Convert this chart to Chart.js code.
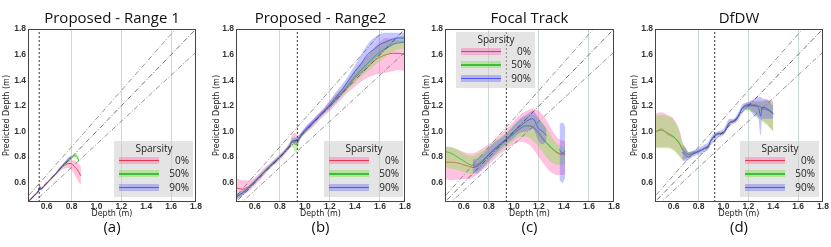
<!DOCTYPE html>
<html>
<head>
<meta charset="utf-8">
<script src="https://cdn.jsdelivr.net/npm/chart.js@4.4.0/dist/chart.umd.min.js"></script>
<style>
  body { margin: 0; background: #fff; }
  #wrap { position: relative; width: 831px; height: 247px; overflow: hidden; }
  #wrap canvas { position: absolute; top: 0; }
  .legend { position: absolute; width: 79px; height: 56px; background: rgba(205,205,205,0.55); font-family: 'Open Sans', sans-serif; color: #222; }
  .legend .ttl { position: absolute; left: 0; width: 80px; top: 0; text-align: center; font-size: 10px; line-height: 14px; }
  .legend .row { position: absolute; left: 5px; width: 70px; height: 13px; }
  .legend .patch { position: absolute; left: 0; top: 3px; width: 40px; height: 7px; }
  .legend .patch i { position: absolute; left: 0; right: 0; top: 3px; height: 1.5px; }
  .legend .lbl { position: absolute; right: 0; top: 0; font-size: 10px; line-height: 13px; }
</style>
</head>
<body>
<div id="wrap"></div>
<script>
// Axis setup
const AXIS_MIN = 0.45;
const AXIS_MAX = 1.8;
const TICKS = [0.6, 0.8, 1.0, 1.2, 1.4, 1.6, 1.8];
const GRID_X = [0.8, 1.2, 1.6];
const REF_SLOPES = [0.9, 1.0, 1.1];
const SPARSITY = ['0%', '50%', '90%'];

// (a) Proposed - Range 1
const A_X = [0.45, 0.48, 0.51, 0.53, 0.545, 0.555, 0.57, 0.6, 0.63, 0.66, 0.69, 0.72, 0.75, 0.78, 0.8, 0.82, 0.84, 0.86, 0.875];
const A0_MEAN = [0.45, 0.48, 0.51, 0.53, 0.57, 0.55, 0.565, 0.595, 0.625, 0.655, 0.69, 0.72, 0.74, 0.75, 0.75, 0.73, 0.71, 0.68, 0.655];
const A0_LO = [0.44, 0.47, 0.50, 0.52, 0.555, 0.54, 0.555, 0.585, 0.615, 0.645, 0.675, 0.70, 0.715, 0.715, 0.70, 0.67, 0.635, 0.60, 0.585];
const A0_HI = [0.46, 0.49, 0.52, 0.54, 0.585, 0.565, 0.575, 0.605, 0.635, 0.665, 0.705, 0.74, 0.76, 0.77, 0.775, 0.775, 0.765, 0.745, 0.725];
const A50_MEAN = [0.45, 0.48, 0.51, 0.53, 0.565, 0.55, 0.565, 0.595, 0.625, 0.655, 0.69, 0.72, 0.75, 0.775, 0.79, 0.81, 0.81, 0.77, null];
const A50_LO = [0.445, 0.475, 0.505, 0.525, 0.555, 0.545, 0.56, 0.59, 0.62, 0.65, 0.68, 0.71, 0.74, 0.765, 0.78, 0.795, 0.79, 0.75, null];
const A50_HI = [0.455, 0.485, 0.515, 0.535, 0.575, 0.555, 0.57, 0.6, 0.63, 0.66, 0.70, 0.73, 0.76, 0.785, 0.80, 0.825, 0.83, 0.79, null];
const A90_MEAN = [0.45, 0.48, 0.51, 0.53, 0.565, 0.55, 0.565, 0.595, 0.625, 0.655, 0.69, 0.725, 0.76, 0.79, 0.80, null, null, null, null];
const A90_LO = [0.445, 0.475, 0.505, 0.525, 0.555, 0.545, 0.56, 0.59, 0.62, 0.65, 0.68, 0.715, 0.75, 0.775, 0.785, null, null, null, null];
const A90_HI = [0.455, 0.485, 0.515, 0.535, 0.575, 0.555, 0.57, 0.6, 0.63, 0.66, 0.70, 0.735, 0.77, 0.805, 0.815, null, null, null, null];

// (b) Proposed - Range2
const B_X = [0.45, 0.5, 0.55, 0.6, 0.65, 0.7, 0.75, 0.8, 0.85, 0.88, 0.9, 0.92, 0.94, 0.96, 1.0, 1.05, 1.1, 1.15, 1.2, 1.25, 1.3, 1.35, 1.4, 1.45, 1.5, 1.55, 1.6, 1.65, 1.7, 1.75, 1.8];
const B0_MEAN = [0.56, 0.55, 0.57, 0.61, 0.66, 0.71, 0.755, 0.80, 0.855, 0.89, 0.92, 0.93, 0.925, 0.955, 1.0, 1.05, 1.1, 1.15, 1.2, 1.25, 1.3, 1.36, 1.42, 1.46, 1.5, 1.55, 1.58, 1.6, 1.61, 1.61, 1.6];
const B0_LO = [0.47, 0.50, 0.53, 0.58, 0.63, 0.69, 0.735, 0.78, 0.83, 0.87, 0.89, 0.90, 0.89, 0.93, 0.98, 1.02, 1.07, 1.12, 1.16, 1.21, 1.26, 1.31, 1.35, 1.39, 1.42, 1.44, 1.45, 1.46, 1.47, 1.48, 1.47];
const B0_HI = [0.64, 0.62, 0.62, 0.64, 0.69, 0.735, 0.78, 0.825, 0.875, 0.92, 0.97, 0.99, 0.97, 0.98, 1.03, 1.08, 1.13, 1.18, 1.24, 1.29, 1.34, 1.4, 1.47, 1.53, 1.59, 1.65, 1.7, 1.73, 1.72, 1.71, 1.70];
const B50_MEAN = [0.49, 0.52, 0.56, 0.61, 0.66, 0.71, 0.755, 0.80, 0.855, 0.89, 0.93, 0.90, 0.91, 0.95, 1.0, 1.05, 1.1, 1.15, 1.2, 1.26, 1.31, 1.37, 1.43, 1.48, 1.53, 1.58, 1.62, 1.65, 1.68, 1.69, 1.7];
const B50_LO = [0.47, 0.50, 0.545, 0.595, 0.645, 0.695, 0.74, 0.785, 0.84, 0.87, 0.88, 0.84, 0.86, 0.93, 0.98, 1.03, 1.08, 1.13, 1.18, 1.23, 1.28, 1.33, 1.38, 1.43, 1.47, 1.51, 1.55, 1.59, 1.62, 1.64, 1.65];
const B50_HI = [0.51, 0.54, 0.575, 0.625, 0.675, 0.725, 0.77, 0.815, 0.87, 0.91, 0.96, 0.96, 0.94, 0.97, 1.02, 1.07, 1.12, 1.17, 1.22, 1.29, 1.34, 1.41, 1.48, 1.54, 1.59, 1.64, 1.68, 1.71, 1.73, 1.74, 1.75];
const B90_MEAN = [0.49, 0.52, 0.56, 0.61, 0.66, 0.71, 0.755, 0.80, 0.855, 0.89, 0.925, 0.93, 0.93, 0.96, 1.01, 1.06, 1.11, 1.16, 1.21, 1.27, 1.33, 1.4, 1.47, 1.53, 1.6, 1.64, 1.68, 1.7, 1.72, 1.73, 1.73];
const B90_LO = [0.47, 0.50, 0.545, 0.595, 0.645, 0.695, 0.74, 0.785, 0.84, 0.875, 0.91, 0.91, 0.91, 0.94, 0.99, 1.04, 1.09, 1.14, 1.18, 1.23, 1.29, 1.35, 1.41, 1.46, 1.51, 1.56, 1.6, 1.64, 1.67, 1.69, 1.69];
const B90_HI = [0.51, 0.54, 0.575, 0.625, 0.675, 0.725, 0.77, 0.815, 0.87, 0.905, 0.94, 0.95, 0.95, 0.98, 1.03, 1.08, 1.13, 1.18, 1.24, 1.31, 1.37, 1.44, 1.52, 1.6, 1.68, 1.73, 1.76, 1.77, 1.77, 1.77, 1.77];

// (c) Focal Track
const C_X = [0.45, 0.5, 0.55, 0.6, 0.65, 0.67, 0.7, 0.75, 0.8, 0.85, 0.9, 0.95, 1.0, 1.05, 1.1, 1.15, 1.2, 1.23, 1.26, 1.3, 1.35, 1.365, 1.39, 1.41];
const C0_MEAN = [0.76, 0.76, 0.755, 0.74, 0.725, 0.72, 0.73, 0.77, 0.82, 0.86, 0.9, 0.94, 0.98, 1.02, 1.045, 1.035, 0.98, 0.94, 0.91, 0.87, 0.83, 0.825, 0.82, 0.82];
const C0_LO = [0.63, 0.62, 0.625, 0.63, 0.63, 0.64, 0.66, 0.70, 0.74, 0.79, 0.83, 0.87, 0.90, 0.92, 0.91, 0.87, 0.80, 0.76, 0.72, 0.68, 0.66, 0.66, 0.66, 0.67];
const C0_HI = [0.88, 0.875, 0.86, 0.84, 0.83, 0.83, 0.84, 0.87, 0.90, 0.94, 0.98, 1.03, 1.08, 1.13, 1.16, 1.18, 1.16, 1.13, 1.09, 1.02, 0.95, 0.94, 0.93, 0.92];
const C50_MEAN = [0.845, 0.83, 0.80, 0.77, 0.74, 0.735, 0.74, 0.775, 0.82, 0.865, 0.905, 0.945, 0.985, 1.025, 1.045, 1.04, 0.99, 0.95, 0.915, 0.875, 0.835, 0.83, 0.83, 0.83];
const C50_LO = [0.72, 0.71, 0.70, 0.685, 0.67, 0.67, 0.69, 0.72, 0.76, 0.81, 0.85, 0.89, 0.93, 0.96, 0.96, 0.93, 0.88, 0.84, 0.80, 0.76, 0.74, 0.74, 0.74, 0.75];
const C50_HI = [0.885, 0.88, 0.86, 0.83, 0.81, 0.81, 0.82, 0.85, 0.88, 0.92, 0.96, 1.0, 1.05, 1.09, 1.12, 1.13, 1.1, 1.07, 1.03, 0.96, 0.9, 0.89, 0.88, 0.88];
const C90_MEAN = [null, null, null, null, null, 0.72, 0.725, 0.765, 0.82, 0.87, 0.91, 0.95, 1.0, 1.04, 1.08, 1.1, 1.02, 1.0, 0.97, null, null, 0.86, 0.83, 0.85];
const C90_LO = [null, null, null, null, null, 0.68, 0.67, 0.71, 0.77, 0.82, 0.87, 0.91, 0.95, 0.99, 1.0, 1.02, 0.92, 0.9, 0.92, null, null, 0.62, 0.6, 0.64];
const C90_HI = [null, null, null, null, null, 0.78, 0.79, 0.82, 0.87, 0.92, 0.95, 0.99, 1.05, 1.1, 1.13, 1.16, 1.1, 1.06, 1.02, null, null, 1.06, 1.07, 1.04];

// (d) DfDW
const D_X = [0.45, 0.5, 0.55, 0.6, 0.65, 0.67, 0.7, 0.72, 0.75, 0.8, 0.85, 0.88, 0.9, 0.95, 1.0, 1.05, 1.08, 1.1, 1.13, 1.15, 1.2, 1.25, 1.28, 1.3, 1.31, 1.35, 1.4];
const D0_MEAN = [1.0, 1.01, 0.99, 0.96, 0.9, 0.86, 0.83, 0.82, 0.83, 0.845, 0.87, 0.89, 0.93, 0.98, 0.99, 1.07, 1.08, 1.09, 1.14, 1.18, 1.2, 1.21, 1.2, 1.19, 1.18, 1.17, 1.14];
const D0_LO = [0.88, 0.88, 0.88, 0.86, 0.81, 0.78, 0.79, 0.80, 0.815, 0.835, 0.86, 0.88, 0.92, 0.97, 0.98, 1.06, 1.07, 1.08, 1.13, 1.17, 1.17, 1.15, 1.12, 1.1, 1.09, 1.06, 1.0];
const D0_HI = [1.14, 1.15, 1.13, 1.1, 1.0, 0.92, 0.87, 0.84, 0.845, 0.855, 0.88, 0.9, 0.94, 0.99, 1.0, 1.08, 1.09, 1.1, 1.15, 1.19, 1.23, 1.24, 1.24, 1.24, 1.24, 1.25, 1.24];
const D50_MEAN = [0.99, 1.02, 0.98, 0.955, 0.9, 0.86, 0.83, 0.82, 0.83, 0.845, 0.87, 0.89, 0.93, 0.98, 0.99, 1.07, 1.08, 1.09, 1.14, 1.18, 1.2, 1.2, 1.2, 1.19, 1.18, 1.17, 1.14];
const D50_LO = [0.87, 0.87, 0.87, 0.85, 0.8, 0.78, 0.79, 0.80, 0.815, 0.835, 0.86, 0.88, 0.92, 0.97, 0.98, 1.06, 1.07, 1.08, 1.13, 1.17, 1.16, 1.14, 1.11, 1.09, 1.08, 1.05, 1.0];
const D50_HI = [1.12, 1.13, 1.12, 1.09, 0.99, 0.91, 0.87, 0.84, 0.845, 0.855, 0.88, 0.9, 0.94, 0.99, 1.0, 1.08, 1.09, 1.1, 1.15, 1.19, 1.22, 1.23, 1.23, 1.23, 1.23, 1.24, 1.23];
const D90_MEAN = [null, null, null, null, null, 0.84, 0.81, 0.80, 0.82, 0.845, 0.87, 0.89, 0.93, 0.98, 0.99, 1.07, 1.08, 1.09, 1.14, 1.18, 1.21, 1.2, 1.19, 1.12, 1.19, 1.18, 1.14];
const D90_LO = [null, null, null, null, null, 0.77, 0.77, 0.78, 0.8, 0.82, 0.84, 0.86, 0.9, 0.95, 0.97, 1.04, 1.06, 1.07, 1.11, 1.15, 1.18, 1.12, 1.1, 0.97, 1.1, 1.1, 1.1];
const D90_HI = [null, null, null, null, null, 0.9, 0.86, 0.84, 0.85, 0.87, 0.9, 0.92, 0.96, 1.0, 1.02, 1.1, 1.1, 1.12, 1.17, 1.21, 1.23, 1.26, 1.27, 1.27, 1.26, 1.25, 1.2];

// Series styling
const SERIES_COLORS = [
    { band: 'rgba(255,105,180,0.4)', line: '#e8394a' },
    { band: 'rgba(120,225,60,0.4)', line: '#3cbf3c' },
    { band: 'rgba(90,90,255,0.35)', line: '#5555f0' }
];

// Panel layout
const PANELS = [
    { title: 'Proposed - Range 1', label: '(a)', left: 0, yAxisW: 28, padR: 11, yTitlePad: 2, vline: 0.54,
      x: A_X, series: [[A0_MEAN, A0_LO, A0_HI], [A50_MEAN, A50_LO, A50_HI], [A90_MEAN, A90_LO, A90_HI]], legend: [114, 141] },
    { title: 'Proposed - Range2', label: '(b)', left: 208, yAxisW: 28, padR: 10, yTitlePad: 4, vline: 0.94,
      x: B_X, series: [[B0_MEAN, B0_LO, B0_HI], [B50_MEAN, B50_LO, B50_HI], [B90_MEAN, B90_LO, B90_HI]], legend: [324, 141] },
    { title: 'Focal Track', label: '(c)', left: 416, yAxisW: 29, padR: 9, yTitlePad: 6, vline: 0.94,
      x: C_X, series: [[C0_MEAN, C0_LO, C0_HI], [C50_MEAN, C50_LO, C50_HI], [C90_MEAN, C90_LO, C90_HI]], legend: [456, 32] },
    { title: 'DfDW', label: '(d)', left: 624, yAxisW: 31, padR: 8, yTitlePad: 6, vline: 0.93,
      x: D_X, series: [[D0_MEAN, D0_LO, D0_HI], [D50_MEAN, D50_LO, D50_HI], [D90_MEAN, D90_LO, D90_HI]], legend: [740, 141] }
];

const TICK_FONT = { family: 'Liberation Sans', size: 8.5, weight: 'bold' };
const AXIS_TITLE_FONT = { family: 'DejaVu Sans', size: 8, lineHeight: 1.2 };
const HEAD_FONT = { family: 'Open Sans', size: 15, weight: 'normal' };

// Draw the frame round the plot area
const framePlugin = {
    id: 'frame',
    afterDatasetsDraw(chart) {
        const { ctx, chartArea: a } = chart;
        ctx.save();
        ctx.strokeStyle = '#444';
        ctx.lineWidth = 1;
        ctx.strokeRect(Math.round(a.left) + 0.5, Math.round(a.top) + 0.5, Math.round(a.right - a.left) - 1, Math.round(a.bottom - a.top) - 1);
        ctx.restore();
    }
};

function buildDatasets(panel) {
    const sets = [];
    panel.series.forEach((s, k) => {
        const [mean, lo, hi] = s;
        const col = SERIES_COLORS[k];
        const order = 60 - k * 10;
        const pts = arr => panel.x.map((x, i) => ({ x: x, y: arr[i] }));
        const common = { pointRadius: 0, cubicInterpolationMode: 'monotone' };
        sets.push({ ...common, data: pts(hi), borderWidth: 1, borderColor: 'transparent', fill: false, order: order });
        sets.push({ ...common, data: pts(lo), borderWidth: 1, borderColor: 'transparent', backgroundColor: col.band, fill: '-1', order: order });
        sets.push({ ...common, data: pts(mean), borderWidth: 0.9, borderColor: col.line, fill: false, order: order - 1 });
    });
    REF_SLOPES.forEach(k => {
        sets.push({
            data: [{ x: 0.3, y: 0.3 * k }, { x: 2.0, y: 2.0 * k }],
            borderColor: k === 1 ? '#333' : '#666', borderWidth: 0.7, borderDash: [5, 2, 1, 2],
            pointRadius: 0, fill: false, order: 10
        });
    });
    sets.push({
        data: [{ x: panel.vline, y: AXIS_MIN }, { x: panel.vline, y: AXIS_MAX }],
        borderColor: '#333', borderWidth: 1, borderDash: [2, 2], pointRadius: 0, fill: false, order: 5
    });
    return sets;
}

function buildLegend(panel) {
    const box = document.createElement('div');
    box.className = 'legend';
    box.style.left = panel.legend[0] + 'px';
    box.style.top = panel.legend[1] + 'px';
    let html = '<div class="ttl">Sparsity</div>';
    SPARSITY.forEach((name, k) => {
        const col = SERIES_COLORS[k];
        html += `<div class="row" style="top:${12.5 + k * 13.5}px">
            <div class="patch" style="background:${col.band}"><i style="background:${col.line}"></i></div>
            <span class="lbl">${name}</span></div>`;
    });
    box.innerHTML = html;
    return box;
}

function drawPanel(panel) {
    const wrap = document.getElementById('wrap');
    const canvas = document.createElement('canvas');
    canvas.width = 207;
    canvas.height = 247;
    canvas.style.left = panel.left + 'px';
    wrap.appendChild(canvas);

    new Chart(canvas.getContext('2d'), {
        type: 'line',
        data: { datasets: buildDatasets(panel) },
        options: {
            responsive: false,
            animation: false,
            devicePixelRatio: 1,
            layout: { padding: { left: 0, right: panel.padR, top: 0, bottom: 0 } },
            plugins: {
                legend: { display: false },
                tooltip: { enabled: false },
                title: {
                    display: true, text: panel.title, fullSize: false, font: HEAD_FONT, color: '#111',
                    padding: { top: 10, bottom: 1 }
                },
                subtitle: {
                    display: true, text: panel.label, position: 'bottom', fullSize: false, font: HEAD_FONT, color: '#111',
                    padding: { top: 0, bottom: 10 }
                }
            },
            scales: {
                x: {
                    type: 'linear', min: AXIS_MIN, max: AXIS_MAX,
                    afterBuildTicks: s => { s.ticks = TICKS.map(v => ({ value: v })); },
                    afterFit: s => { s.height = 17; s.paddingLeft = 0; s.paddingRight = 0; },
                    ticks: { callback: v => v.toFixed(1), font: TICK_FONT, color: '#333', padding: 0, maxRotation: 0, autoSkip: false },
                    grid: {
                        drawTicks: false,
                        lineWidth: 1,
                        color: ctx => (ctx.tick && GRID_X.some(g => Math.abs(g - ctx.tick.value) < 1e-6)) ? '#cdd6d6' : 'transparent'
                    },
                    border: { display: false },
                    title: { display: true, text: 'Depth (m)', font: AXIS_TITLE_FONT, color: '#222', padding: { top: 0, bottom: 0 } }
                },
                y: {
                    type: 'linear', min: AXIS_MIN, max: AXIS_MAX,
                    afterBuildTicks: s => { s.ticks = TICKS.map(v => ({ value: v })); },
                    afterFit: s => { s.width = panel.yAxisW; s.paddingTop = 0; s.paddingBottom = 0; },
                    ticks: { callback: v => v.toFixed(1), font: TICK_FONT, color: '#333', padding: 2, autoSkip: false },
                    grid: { display: false, drawTicks: false },
                    border: { display: false },
                    title: { display: true, text: 'Predicted Depth (m)', font: AXIS_TITLE_FONT, color: '#222', padding: { top: panel.yTitlePad, bottom: 0 } }
                }
            }
        },
        plugins: [framePlugin]
    });

    wrap.appendChild(buildLegend(panel));
}

PANELS.forEach(drawPanel);
</script>
</body>
</html>
